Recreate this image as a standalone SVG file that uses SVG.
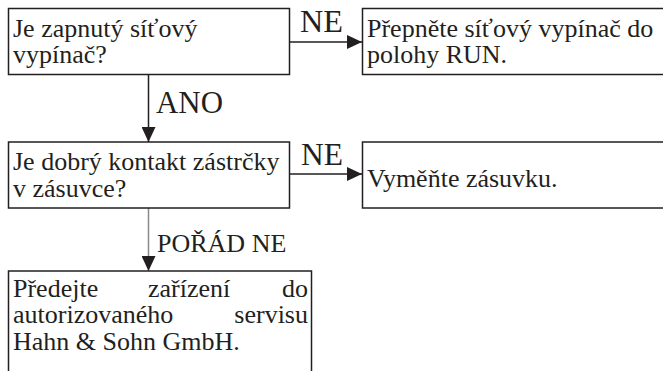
<svg xmlns="http://www.w3.org/2000/svg" width="663" height="371" viewBox="0 0 663 371">
<defs>
<marker id="ah" markerWidth="15" markerHeight="14" refX="15" refY="7" orient="auto" markerUnits="userSpaceOnUse">
<path d="M0,0 L15,7 L0,14 Z" fill="#231f20"/>
</marker>
<style>
.box{fill:#fff;stroke:#231f20;stroke-width:1.5}
.t{font-family:"Liberation Serif","Times New Roman",serif;font-size:26px;fill:#231f20}
.lbl{font-family:"Liberation Serif","Times New Roman",serif;font-size:31px;fill:#231f20}
.c{fill:none;stroke:#231f20;stroke-width:1.5}
.cg{fill:none;stroke:#8a8a8a;stroke-width:1.5}
</style>
</defs>
<rect width="663" height="371" fill="#fff"/>
<g id="connectors">
<line class="c" x1="289" y1="42" x2="362" y2="42" marker-end="url(#ah)"/>
<line class="c" x1="148.5" y1="75" x2="148.5" y2="142" marker-end="url(#ah)"/>
<line class="c" x1="289" y1="174" x2="362" y2="174" marker-end="url(#ah)"/>
<line class="cg" x1="148.5" y1="208" x2="148.5" y2="271" marker-end="url(#ah)"/>
<text class="lbl" x="300" y="32" textLength="43" lengthAdjust="spacingAndGlyphs">NE</text>
<text class="lbl" x="156" y="113" textLength="67" lengthAdjust="spacingAndGlyphs">ANO</text>
<text class="lbl" x="301" y="165" textLength="42" lengthAdjust="spacingAndGlyphs">NE</text>
<text class="t" x="157" y="252">POŘÁD NE</text>
</g>
<g id="n1">
<rect class="box" x="8.5" y="8.5" width="281" height="66"/>
<text class="t" x="13" y="37">Je zapnutý síťový</text>
<text class="t" x="13" y="63">vypínač?</text>
</g>
<g id="n2">
<rect class="box" x="362.5" y="8.5" width="320" height="66"/>
<text class="t" x="367" y="37">Přepněte síťový vypínač do</text>
<text class="t" x="367" y="63">polohy RUN.</text>
</g>
<g id="n3">
<rect class="box" x="8.5" y="142" width="281" height="66"/>
<text class="t" x="13" y="170">Je dobrý kontakt zástrčky</text>
<text class="t" x="13" y="197">v zásuvce?</text>
</g>
<g id="n4">
<rect class="box" x="362.5" y="142" width="320" height="66"/>
<text class="t" x="367" y="187">Vyměňte zásuvku.</text>
</g>
<g id="n5">
<rect class="box" x="8.5" y="271" width="303" height="120"/>
<text class="t" x="13" y="297">Předejte</text>
<text class="t" x="148" y="297">zařízení</text>
<text class="t" x="308" y="297" text-anchor="end">do</text>
<text class="t" x="13" y="323">autorizovaného</text>
<text class="t" x="308" y="323" text-anchor="end">servisu</text>
<text class="t" x="13" y="350">Hahn &amp; Sohn GmbH.</text>
</g>
</svg>
